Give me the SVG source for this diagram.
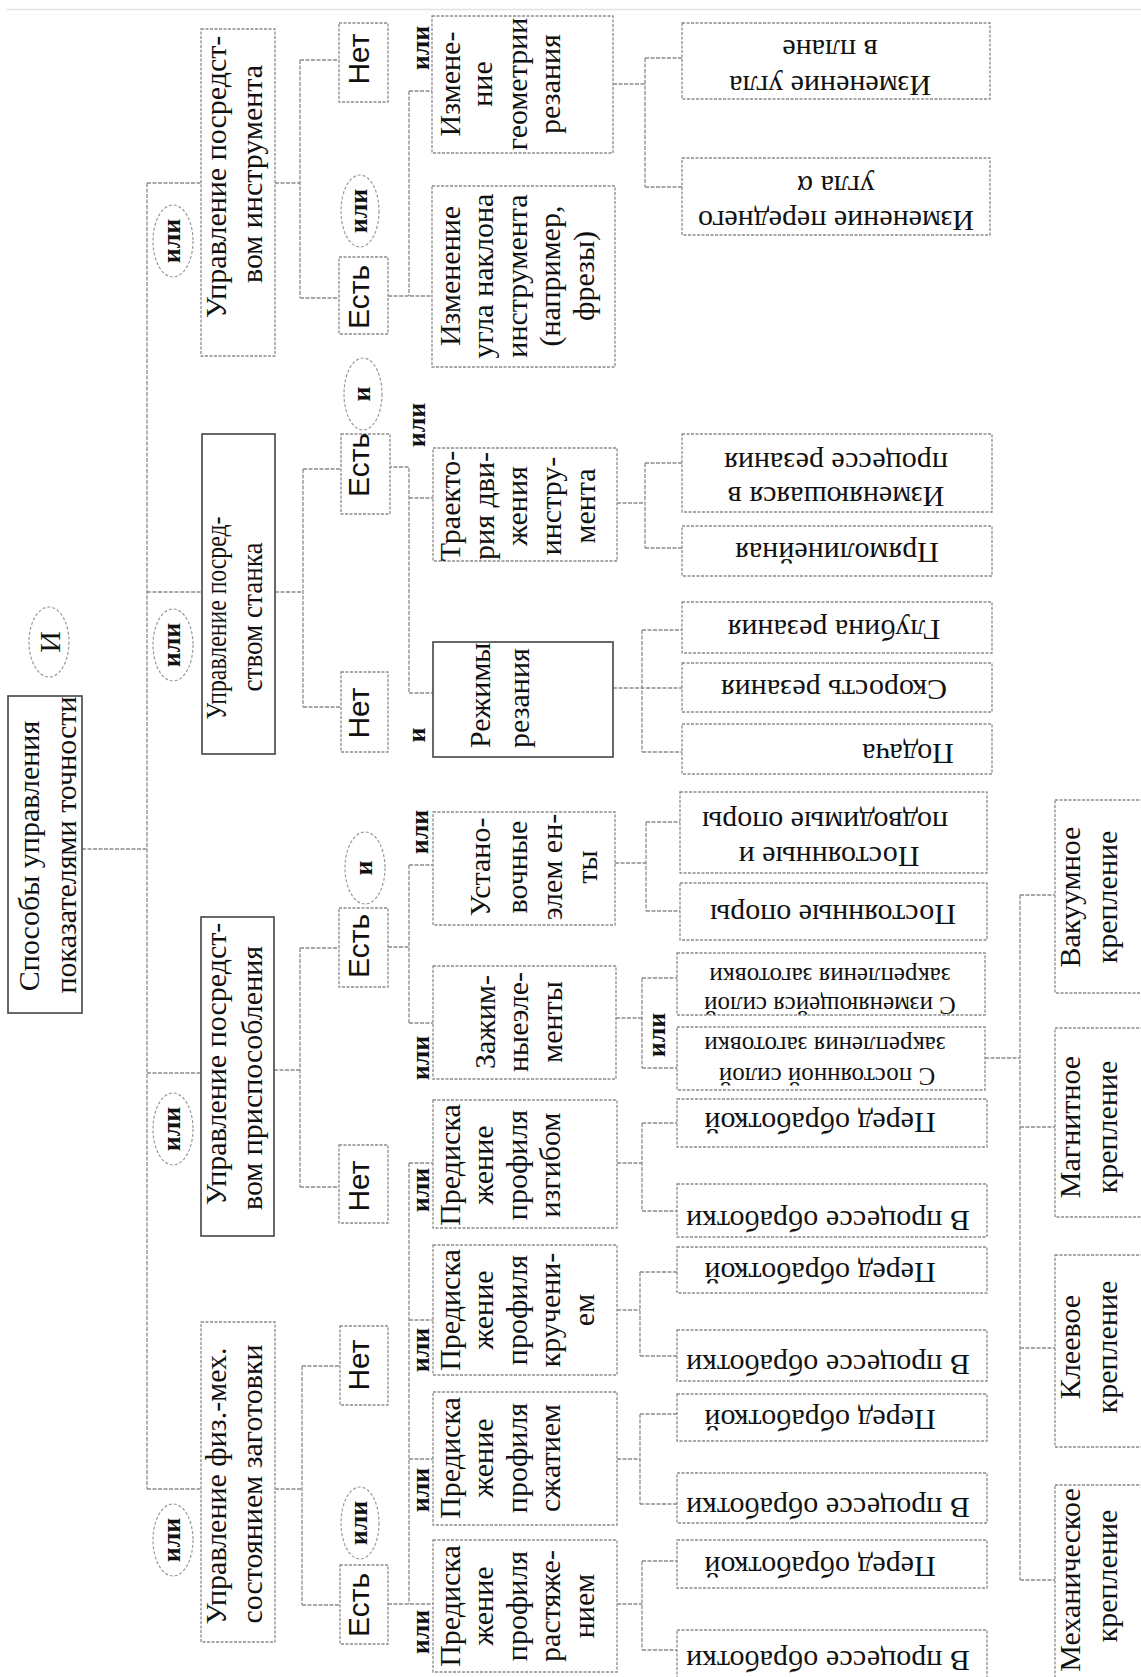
<svg xmlns="http://www.w3.org/2000/svg" width="1141" height="1677" viewBox="0 0 1141 1677">
<style>
.b{fill:#fff;stroke:#8c8c8c;stroke-width:1.3;stroke-dasharray:3 1.5}
.bs{fill:#fff;stroke:#444;stroke-width:1.6}
.c{fill:none;stroke:#8c8c8c;stroke-width:1.3;stroke-dasharray:4 1.5}
.e{fill:#fff;stroke:#9a9a9a;stroke-width:1.2;stroke-dasharray:3 2}
text{font-family:"Liberation Serif","Times New Roman",serif;font-size:30px;fill:#111;text-anchor:middle}
.a{font-family:"Liberation Sans",Arial,sans-serif;font-size:30px}
.st{text-anchor:start}
.k{font-weight:bold;font-size:26px}
.sm{font-size:25px}
</style>
<rect width="1141" height="1677" fill="#fff"/>
<line x1="7" y1="9.5" x2="1141" y2="9.5" stroke="#e2e2e2" stroke-width="1.5"/>

<g id="connectors" class="c">
<path d="M82 849H147"/>
<path d="M147 183V1489"/>
<path d="M147 183H201M147 592H202M147 1073H201M147 1489H201"/>
<path d="M275 183H300M300 60V298M300 60H339M300 298H339"/>
<path d="M275 592H303M303 469V707M303 469H341M303 707H341"/>
<path d="M274 1070H300M300 948V1187M300 948H339M300 1187H339"/>
<path d="M275 1489H302M302 1366V1605M302 1366H340M302 1605H340"/>
<path d="M388 296H432M409 91V296M409 91H432"/>
<path d="M388 467H409V693M409 498H433M409 693H433"/>
<path d="M388 947H409M409 865V1023M409 865H433M409 1023H433"/>
<path d="M388 1604H433M409 1163V1604M409 1163H433M409 1320H433M409 1459H433"/>
<path d="M613 84H645M645 58V187M645 58H682M645 187H682"/>
<path d="M617 503H645M645 463V548M645 463H682M645 548H682"/>
<path d="M613 688H682M642 630V752M642 630H682M642 752H682"/>
<path d="M615 863H646M646 822V911M646 822H680M646 911H680"/>
<path d="M616 1018H642M642 978V1068M642 978H677M642 1068H677"/>
<path d="M617 1163H642M642 1123V1211M642 1123H677M642 1211H677"/>
<path d="M617 1310H640M640 1272V1356M640 1272H677M640 1356H677"/>
<path d="M617 1459H640M640 1414V1504M640 1414H677M640 1504H677"/>
<path d="M617 1604H642M642 1561V1650M642 1561H677M642 1650H677"/>
<path d="M985 1058H1020M1020 895V1580M1020 895H1055M1020 1127H1055M1020 1348H1055M1020 1580H1055"/>
</g>

<g id="root">
<rect class="bs" x="8" y="696" width="74" height="317"/>
<text transform="translate(39,856) rotate(-90)">Способы управления</text>
<text transform="translate(76,845) rotate(-90)">показателями точности</text>
</g>
<g id="op-and-root">
<ellipse class="e" cx="49" cy="642" rx="20" ry="35"/>
<text transform="translate(60,642) rotate(-90)">И</text>
</g>

<g id="op-l1-1"><ellipse class="e" cx="173" cy="241" rx="20" ry="36"/><text class="k" transform="translate(180,241) rotate(-90)">или</text></g>
<g id="op-l1-2"><ellipse class="e" cx="173" cy="645" rx="20" ry="36"/><text class="k" transform="translate(180,645) rotate(-90)">или</text></g>
<g id="op-l1-3"><ellipse class="e" cx="173" cy="1129" rx="20" ry="36"/><text class="k" transform="translate(180,1129) rotate(-90)">или</text></g>
<g id="op-l1-4"><ellipse class="e" cx="173" cy="1540" rx="20" ry="36"/><text class="k" transform="translate(180,1540) rotate(-90)">или</text></g>

<g id="n-tool">
<rect class="b" x="201" y="29" width="74" height="327"/>
<text transform="translate(226,177) rotate(-90)">Управление посредст-</text>
<text transform="translate(262,174) rotate(-90)">вом инструмента</text>
</g>
<g id="n-machine">
<rect class="bs" x="202" y="434" width="73" height="320"/>
<text transform="translate(226,618) rotate(-90)" textLength="203" lengthAdjust="spacingAndGlyphs">Управление посред-</text>
<text transform="translate(262,617) rotate(-90)" textLength="149" lengthAdjust="spacingAndGlyphs">ством станка</text>
</g>
<g id="n-fixture">
<rect class="bs" x="201" y="917" width="73" height="319"/>
<text transform="translate(226,1064) rotate(-90)">Управление посредст-</text>
<text transform="translate(262,1078) rotate(-90)">вом приспособления</text>
</g>
<g id="n-blank">
<rect class="b" x="201" y="1322" width="74" height="320"/>
<text transform="translate(226,1486) rotate(-90)">Управление физ.-мех.</text>
<text transform="translate(262,1484) rotate(-90)">состоянием заготовки</text>
</g>

<g id="tool-no"><rect class="b" x="339" y="23" width="49" height="79"/><text class="a" transform="translate(369,59) rotate(-90)">Нет</text></g>
<g id="tool-yes"><rect class="b" x="339" y="257" width="49" height="77"/><text class="a" transform="translate(369,297) rotate(-90)">Есть</text></g>
<g id="op-tool"><ellipse class="e" cx="360" cy="211" rx="19" ry="36"/><text class="k" transform="translate(367,211) rotate(-90)">или</text></g>
<g id="op-machine"><ellipse class="e" cx="363" cy="394" rx="19" ry="36"/><text class="k" transform="translate(370,394) rotate(-90)">и</text></g>
<g id="machine-yes"><rect class="b" x="341" y="434" width="49" height="80"/><text class="a" transform="translate(369,465) rotate(-90)">Есть</text></g>
<g id="machine-no"><rect class="b" x="341" y="672" width="47" height="80"/><text class="a" transform="translate(369,713) rotate(-90)">Нет</text></g>
<g id="op-fixture"><ellipse class="e" cx="365" cy="868" rx="20" ry="36"/><text class="k" transform="translate(372,868) rotate(-90)">и</text></g>
<g id="fixture-yes"><rect class="b" x="339" y="908" width="49" height="79"/><text class="a" transform="translate(369,946) rotate(-90)">Есть</text></g>
<g id="fixture-no"><rect class="b" x="339" y="1145" width="49" height="78"/><text class="a" transform="translate(369,1186) rotate(-90)">Нет</text></g>
<g id="blank-no"><rect class="b" x="340" y="1326" width="48" height="79"/><text class="a" transform="translate(369,1365) rotate(-90)">Нет</text></g>
<g id="op-blank"><ellipse class="e" cx="360" cy="1523" rx="19" ry="36"/><text class="k" transform="translate(367,1523) rotate(-90)">или</text></g>
<g id="blank-yes"><rect class="b" x="340" y="1565" width="48" height="79"/><text class="a" transform="translate(369,1605) rotate(-90)">Есть</text></g>

<g id="w1"><text class="k" transform="translate(429,48) rotate(-90)">или</text></g>
<g id="w2"><text class="k" transform="translate(425,425) rotate(-90)">или</text></g>
<g id="w3"><text class="k" transform="translate(425,735) rotate(-90)">и</text></g>
<g id="w4"><text class="k" transform="translate(428,832) rotate(-90)">или</text></g>
<g id="w5"><text class="k" transform="translate(429,1058) rotate(-90)">или</text></g>
<g id="w6"><text class="k" transform="translate(429,1190) rotate(-90)">или</text></g>
<g id="w7"><text class="k" transform="translate(429,1350) rotate(-90)">или</text></g>
<g id="w8"><text class="k" transform="translate(429,1490) rotate(-90)">или</text></g>
<g id="w9"><text class="k" transform="translate(429,1632) rotate(-90)">или</text></g>
<g id="w10"><text class="k" transform="translate(665,1035) rotate(-90)">или</text></g>

<g id="n-geom">
<rect class="b" x="432" y="16" width="181" height="137"/>
<text transform="translate(460,84) rotate(-90)">Измене-</text>
<text transform="translate(492,84) rotate(-90)">ние</text>
<text transform="translate(527,84) rotate(-90)">геометрии</text>
<text transform="translate(560,84) rotate(-90)">резания</text>
</g>
<g id="n-tilt">
<rect class="b" x="432" y="186" width="183" height="181"/>
<text transform="translate(460,276) rotate(-90)">Изменение</text>
<text transform="translate(493,276) rotate(-90)">угла наклона</text>
<text transform="translate(527,276) rotate(-90)">инструмента</text>
<text transform="translate(560,276) rotate(-90)">(например,</text>
<text transform="translate(594,276) rotate(-90)">фрезы)</text>
</g>
<g id="n-path">
<rect class="b" x="433" y="448" width="184" height="113"/>
<text transform="translate(460,506) rotate(-90)">Траекто-</text>
<text transform="translate(494,506) rotate(-90)">рия дви-</text>
<text transform="translate(527,506) rotate(-90)">жения</text>
<text transform="translate(561,506) rotate(-90)">инстру-</text>
<text transform="translate(595,506) rotate(-90)">мента</text>
</g>
<g id="n-modes">
<rect class="bs" x="433" y="642" width="180" height="115"/>
<text class="st" transform="translate(490,748) rotate(-90)">Режимы</text>
<text class="st" transform="translate(529,748) rotate(-90)">резания</text>
</g>
<g id="n-locators">
<rect class="b" x="433" y="812" width="182" height="113"/>
<text transform="translate(490,867) rotate(-90)">Устано-</text>
<text transform="translate(527,867) rotate(-90)">вочные</text>
<text transform="translate(562,867) rotate(-90)">элем ен-</text>
<text transform="translate(597,867) rotate(-90)">ты</text>
</g>
<g id="n-clamps">
<rect class="b" x="433" y="966" width="183" height="113"/>
<text transform="translate(495,1022) rotate(-90)">Зажим-</text>
<text transform="translate(528,1022) rotate(-90)">ныеэле-</text>
<text transform="translate(562,1022) rotate(-90)">менты</text>
</g>
<g id="n-bend">
<rect class="b" x="433" y="1100" width="184" height="128"/>
<text transform="translate(460,1165) rotate(-90)">Предиска</text>
<text transform="translate(493,1165) rotate(-90)">жение</text>
<text transform="translate(527,1165) rotate(-90)">профиля</text>
<text transform="translate(560,1165) rotate(-90)">изгибом</text>
</g>
<g id="n-twist">
<rect class="b" x="433" y="1245" width="184" height="130"/>
<text transform="translate(460,1310) rotate(-90)">Предиска</text>
<text transform="translate(493,1310) rotate(-90)">жение</text>
<text transform="translate(527,1310) rotate(-90)">профиля</text>
<text transform="translate(560,1310) rotate(-90)">кручени-</text>
<text transform="translate(594,1310) rotate(-90)">ем</text>
</g>
<g id="n-compress">
<rect class="b" x="433" y="1392" width="184" height="133"/>
<text transform="translate(460,1458) rotate(-90)">Предиска</text>
<text transform="translate(493,1458) rotate(-90)">жение</text>
<text transform="translate(527,1458) rotate(-90)">профиля</text>
<text transform="translate(560,1458) rotate(-90)">сжатием</text>
</g>
<g id="n-stretch">
<rect class="b" x="433" y="1540" width="184" height="132"/>
<text transform="translate(460,1606) rotate(-90)">Предиска</text>
<text transform="translate(493,1606) rotate(-90)">жение</text>
<text transform="translate(527,1606) rotate(-90)">профиля</text>
<text transform="translate(560,1606) rotate(-90)">растяже-</text>
<text transform="translate(594,1606) rotate(-90)">нием</text>
</g>

<g id="l-plan"><rect class="b" x="682" y="23" width="308" height="76"/>
<text transform="translate(830,76) rotate(180)">Изменение угла</text>
<text transform="translate(830,40) rotate(180)">в плане</text></g>
<g id="l-rake"><rect class="b" x="682" y="158" width="308" height="77"/>
<text transform="translate(836,211) rotate(180)">Изменение переднего</text>
<text transform="translate(836,176) rotate(180)">угла α</text></g>
<g id="l-var"><rect class="b" x="682" y="434" width="310" height="78"/>
<text transform="translate(836,487) rotate(180)">Изменяюшаяся в</text>
<text transform="translate(836,453) rotate(180)">процессе резания</text></g>
<g id="l-line"><rect class="b" x="682" y="526" width="310" height="50"/>
<text transform="translate(837,543) rotate(180)">Прямолинейная</text></g>
<g id="l-depth"><rect class="b" x="682" y="602" width="310" height="51"/>
<text transform="translate(834,620) rotate(180)">Глубина резания</text></g>
<g id="l-speed"><rect class="b" x="682" y="663" width="310" height="49"/>
<text transform="translate(834,680) rotate(180)">Скорость резания</text></g>
<g id="l-feed"><rect class="b" x="682" y="724" width="310" height="50"/>
<text transform="translate(908,744) rotate(180)">Подача</text></g>
<g id="l-sup2"><rect class="b" x="680" y="792" width="307" height="81"/>
<text transform="translate(829,847) rotate(180)">Постоянные и</text>
<text transform="translate(825,812) rotate(180)">подводимые опоры</text></g>
<g id="l-sup1"><rect class="b" x="680" y="883" width="307" height="57"/>
<text transform="translate(833,905) rotate(180)">Постоянные опоры</text></g>
<g id="l-varforce"><rect class="b" x="677" y="953" width="308" height="62"/>
<text class="sm" transform="translate(830,997) rotate(180)">С изменяющейся  силой</text>
<text class="sm" transform="translate(830,968) rotate(180)">закрепления заготовки</text></g>
<g id="l-constforce"><rect class="b" x="677" y="1027" width="308" height="63"/>
<text class="sm" transform="translate(827,1068) rotate(180)">С постоянной  силой</text>
<text class="sm" transform="translate(825,1037) rotate(180)">закрепления заготовки</text></g>

<g id="l-b1"><rect class="b" x="677" y="1099" width="310" height="48"/><text transform="translate(820,1113) rotate(180)">Перед обработкой</text></g>
<g id="l-b2"><rect class="b" x="677" y="1184" width="310" height="53"/><text transform="translate(828,1211) rotate(180)">В процессе обработки</text></g>
<g id="l-t1"><rect class="b" x="677" y="1247" width="310" height="46"/><text transform="translate(820,1263) rotate(180)">Перед обработкой</text></g>
<g id="l-t2"><rect class="b" x="677" y="1330" width="310" height="51"/><text transform="translate(828,1355) rotate(180)">В процессе обработки</text></g>
<g id="l-c1"><rect class="b" x="677" y="1394" width="310" height="47"/><text transform="translate(820,1410) rotate(180)">Перед обработкой</text></g>
<g id="l-c2"><rect class="b" x="677" y="1473" width="310" height="50"/><text transform="translate(828,1498) rotate(180)">В процессе обработки</text></g>
<g id="l-s1"><rect class="b" x="677" y="1540" width="310" height="48"/><text transform="translate(820,1557) rotate(180)">Перед обработкой</text></g>
<g id="l-s2"><rect class="b" x="677" y="1630" width="310" height="52"/><text transform="translate(828,1651) rotate(180)">В процессе обработки</text></g>

<g id="f-vac"><rect class="b" x="1055" y="800" width="90" height="193"/>
<text transform="translate(1080,897) rotate(-90)">Вакуумное</text>
<text transform="translate(1117,897) rotate(-90)">крепление</text></g>
<g id="f-mag"><rect class="b" x="1055" y="1028" width="90" height="189"/>
<text transform="translate(1080,1127) rotate(-90)">Магнитное</text>
<text transform="translate(1117,1127) rotate(-90)">крепление</text></g>
<g id="f-glue"><rect class="b" x="1055" y="1255" width="90" height="192"/>
<text transform="translate(1080,1347) rotate(-90)">Клеевое</text>
<text transform="translate(1117,1347) rotate(-90)">крепление</text></g>
<g id="f-mech"><rect class="b" x="1055" y="1485" width="90" height="200"/>
<text transform="translate(1080,1580) rotate(-90)">Механическое</text>
<text transform="translate(1117,1576) rotate(-90)">крепление</text></g>
</svg>
